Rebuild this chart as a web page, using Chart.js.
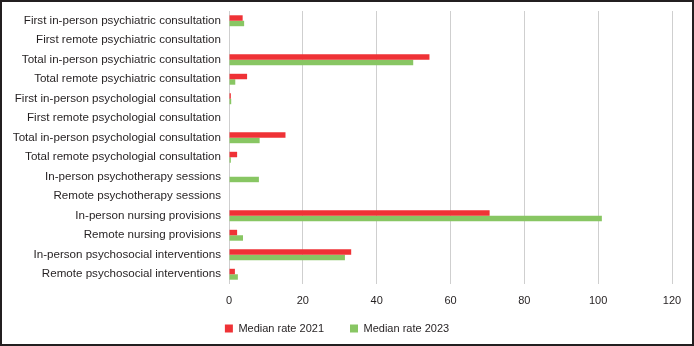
<!DOCTYPE html>
<html>
<head>
<meta charset="utf-8">
<script src="https://cdn.jsdelivr.net/npm/chart.js@4/dist/chart.umd.min.js"></script>
<style>
  html, body { margin: 0; padding: 0; background: #fff; }
  .frame {
    width: 694px; height: 346px;
    box-sizing: border-box;
    border: 2px solid #231f20;
    position: relative;
  }
</style>
</head>
<body>
<div class="frame"><canvas id="rateChart"></canvas></div>
<script>
// service types, top to bottom
const services = [
  'First in-person psychiatric consultation',
  'First remote psychiatric consultation',
  'Total in-person psychiatric consultation',
  'Total remote psychiatric consultation',
  'First in-person psychologial consultation',
  'First remote psychologial consultation',
  'Total in-person psychologial consultation',
  'Total remote psychologial consultation',
  'In-person psychotherapy sessions',
  'Remote psychotherapy sessions',
  'In-person nursing provisions',
  'Remote nursing provisions',
  'In-person psychosocial interventions',
  'Remote psychosocial interventions'
];

const median2021 = [3.7, 0, 54.3, 4.9, 0.5, 0, 15.3, 2.2, 0, 0, 70.6, 2.2, 33.1, 1.6];
const median2023 = [4.1, 0, 49.9, 1.7, 0.6, 0, 8.3, 0.5, 8.1, 0, 101.0, 3.8, 31.4, 2.4];

const xTicks = [0, 20, 40, 60, 80, 100, 120];

Chart.defaults.font.family = "'Liberation Sans', Arial, sans-serif";
Chart.defaults.font.size = 11;
Chart.defaults.color = '#231f20';

// wide gap between legend items, but keep the legend row itself compact
const LEGEND_HEIGHT = 37;
const compactLegend = {
  id: 'compactLegend',
  beforeInit(chart) {
    const fit = chart.legend.fit;
    chart.legend.fit = function () {
      fit.call(this);
      this._extra = this.height - LEGEND_HEIGHT;
      this.height = LEGEND_HEIGHT;
    };
  },
  afterLayout(chart) {
    const lg = chart.legend;
    lg.top -= lg._extra;
    lg.bottom -= lg._extra;
  }
};

new Chart(document.getElementById('rateChart').getContext('2d'), {
  type: 'bar',
  data: {
    labels: services,
    datasets: [
      {
        label: 'Median rate 2021',
        data: median2021,
        backgroundColor: '#ef3236',
        categoryPercentage: 0.56,
        barPercentage: 1
      },
      {
        label: 'Median rate 2023',
        data: median2023,
        backgroundColor: '#88c663',
        categoryPercentage: 0.56,
        barPercentage: 1
      }
    ]
  },
  plugins: [compactLegend],
  options: {
    indexAxis: 'y',
    responsive: true,
    maintainAspectRatio: false,
    animation: false,
    layout: { padding: { top: 9, right: 20, left: 0, bottom: 0 } },
    plugins: {
      legend: {
        position: 'bottom',
        labels: { boxWidth: 8, boxHeight: 8, padding: 26, font: { size: 11 } }
      },
      tooltip: { enabled: false }
    },
    scales: {
      x: {
        min: 0,
        max: 120,
        afterBuildTicks: (scale) => { scale.ticks = xTicks.map(v => ({ value: v })); },
        grid: { color: '#cfcfcf', drawTicks: false },
        border: { display: false },
        ticks: { padding: 10 },
        afterFit: (scale) => { scale.height = 23; }
      },
      y: {
        grid: { display: false, drawTicks: false },
        border: { display: false },
        ticks: { padding: 8, autoSkip: false, font: { size: 11.6 } },
        afterFit: (scale) => {
          scale.width = 227;
          scale.paddingTop = 0;
          scale.paddingBottom = 0;
        }
      }
    }
  }
});
</script>
</body>
</html>
